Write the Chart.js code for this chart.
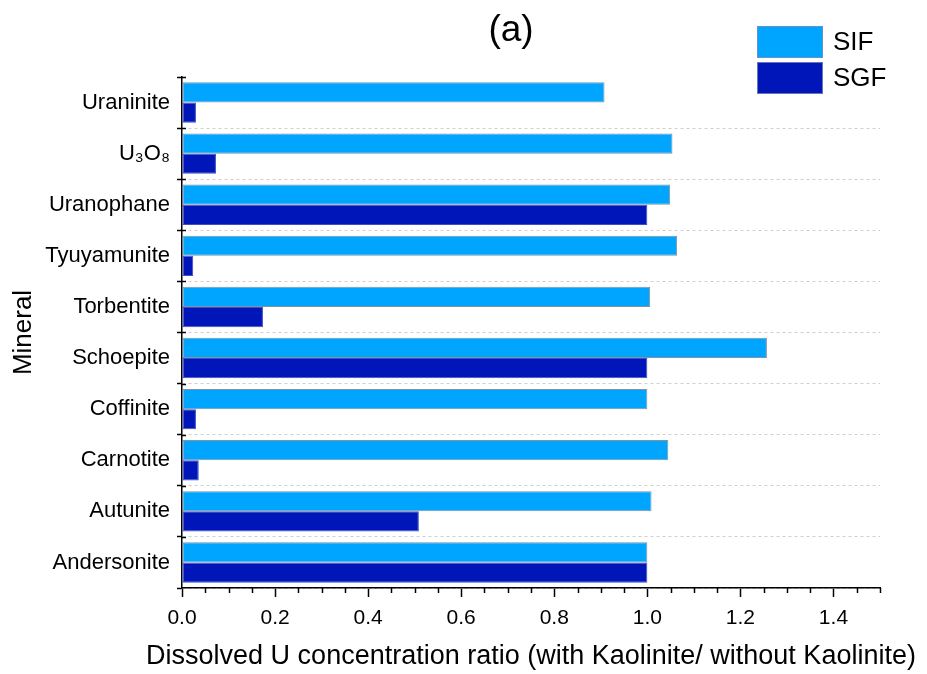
<!DOCTYPE html>
<html>
<head>
<meta charset="utf-8">
<script src="https://cdn.jsdelivr.net/npm/chart.js@4/dist/chart.umd.min.js"></script>
<style>
  html, body { margin: 0; padding: 0; background: #fff; }
  #wrap { width: 927px; height: 674px; position: relative; }
</style>
</head>
<body>
<div id="wrap"><canvas id="c" width="927" height="674"></canvas></div>
<script>
const minerals = ['Uraninite', 'U\u2083O\u2088', 'Uranophane', 'Tyuyamunite', 'Torbentite', 'Schoepite', 'Coffinite', 'Carnotite', 'Autunite', 'Andersonite'];
const sifValues = [0.908, 1.054, 1.049, 1.064, 1.006, 1.257, 1.000, 1.045, 1.009, 1.000];
const sgfValues = [0.030, 0.073, 1.000, 0.024, 0.174, 1.000, 0.030, 0.036, 0.509, 1.000];
const seriesNames = ['SIF', 'SGF'];
const xTitle = 'Dissolved U concentration ratio (with Kaolinite/ without Kaolinite)';
const yTitle = 'Mineral';
const chartTitle = '(a)';

const FONT = '"Liberation Sans", Arial, sans-serif';
const SIF_COLOR = '#00a5ff';
const SGF_COLOR = '#0016b8';

const extras = {
  id: 'extras',
  afterDraw(chart) {
    const x = chart.scales.x;
    const y = chart.scales.y;
    const ctx = chart.ctx;
    const yb = chart.chartArea.bottom;
    const xl = chart.chartArea.left;
    ctx.save();
    ctx.strokeStyle = '#000';
    ctx.lineWidth = 1.5;
    // minor ticks on x axis
    for (let i = 0; i <= 30; i++) {
      if (i % 4 === 0) continue;
      const px = Math.round(x.getPixelForValue(i * 0.05)) + 0.5;
      ctx.beginPath();
      ctx.moveTo(px, yb);
      ctx.lineTo(px, yb + 5);
      ctx.stroke();
    }
    // inner part of y ticks (crossing the axis)
    const n = chart.data.labels.length;
    const half = (y.getPixelForValue(1) - y.getPixelForValue(0)) / 2;
    for (let i = 0; i <= n; i++) {
      const py = Math.round(y.getPixelForValue(0) - half + i * 2 * half) + 0.5;
      if (py > yb - 1) continue;
      ctx.beginPath();
      ctx.moveTo(xl, py);
      ctx.lineTo(xl + 4, py);
      ctx.stroke();
    }
    ctx.fillStyle = '#000';
    ctx.textAlign = 'center';
    ctx.textBaseline = 'middle';
    // title
    ctx.font = '37px ' + FONT;
    ctx.fillText(chartTitle, 511, 31);
    // x axis title (wider than the plot area)
    ctx.font = '27px ' + FONT;
    ctx.fillText(xTitle, (chart.chartArea.left + chart.chartArea.right) / 2, 657);
    // legend
    const left = 757, top = 26, w = 66, h = 32, gap = 4;
    chart.data.datasets.forEach((ds, i) => {
      const yy = top + i * (h + gap);
      ctx.fillStyle = ds.backgroundColor;
      ctx.fillRect(left, yy, w, h);
      ctx.strokeStyle = 'rgba(130,140,190,0.8)';
      ctx.lineWidth = 1;
      ctx.strokeRect(left + 0.5, yy + 0.5, w - 1, h - 1);
      ctx.fillStyle = '#000';
      ctx.font = '26px ' + FONT;
      ctx.textBaseline = 'middle';
      ctx.textAlign = 'left';
      ctx.fillText(ds.label, left + w + 10, yy + h / 2 + 1);
    });
    ctx.restore();
  }
};

new Chart(document.getElementById('c'), {
  type: 'bar',
  data: {
    labels: minerals,
    datasets: [
      { label: seriesNames[0], data: sifValues, backgroundColor: SIF_COLOR, borderColor: 'rgba(90,110,130,0.75)', borderWidth: 1, borderSkipped: false },
      { label: seriesNames[1], data: sgfValues, backgroundColor: SGF_COLOR, borderColor: 'rgba(40,60,190,0.9)', borderWidth: 1, borderSkipped: false }
    ]
  },
  options: {
    indexAxis: 'y',
    responsive: false,
    animation: false,
    devicePixelRatio: 1,
    layout: { padding: { left: 0, right: 47, top: 77, bottom: 0 } },
    datasets: { bar: { categoryPercentage: 0.79, barPercentage: 1.0 } },
    plugins: {
      legend: { display: false },
      tooltip: { enabled: false },
      title: { display: false }
    },
    scales: {
      x: {
        type: 'linear',
        min: 0,
        max: 1.5,
        afterFit(s) { s.height = 86; },
        border: { display: true, color: '#000', width: 1.5 },
        grid: { drawOnChartArea: false, drawTicks: true, tickLength: 9, tickColor: '#000', tickWidth: 1.5 },
        ticks: {
          stepSize: 0.2,
          includeBounds: false,
          color: '#000',
          padding: 9,
          font: { family: FONT, size: 21 },
          callback: (v) => Number(v).toFixed(1)
        },
        title: { display: false }
      },
      y: {
        type: 'category',
        afterFit(s) { s.width = 182; },
        border: { display: true, color: '#000', width: 1.5, dash: [3, 3] },
        grid: {
          offset: true,
          drawOnChartArea: true,
          color: (c) => (c.index === 0 ? 'rgba(0,0,0,0)' : '#cfcfcf'),
          lineWidth: 1,
          drawTicks: true,
          tickLength: 5,
          tickColor: '#000',
          tickWidth: 1.5,
          tickBorderDash: []
        },
        ticks: {
          color: '#000',
          padding: 7,
          font: { family: FONT, size: 22 }
        },
        title: {
          display: true,
          text: yTitle,
          color: '#000',
          font: { family: FONT, size: 26 },
          padding: { top: 8, bottom: 0 }
        }
      }
    }
  },
  plugins: [extras]
});
</script>
</body>
</html>
